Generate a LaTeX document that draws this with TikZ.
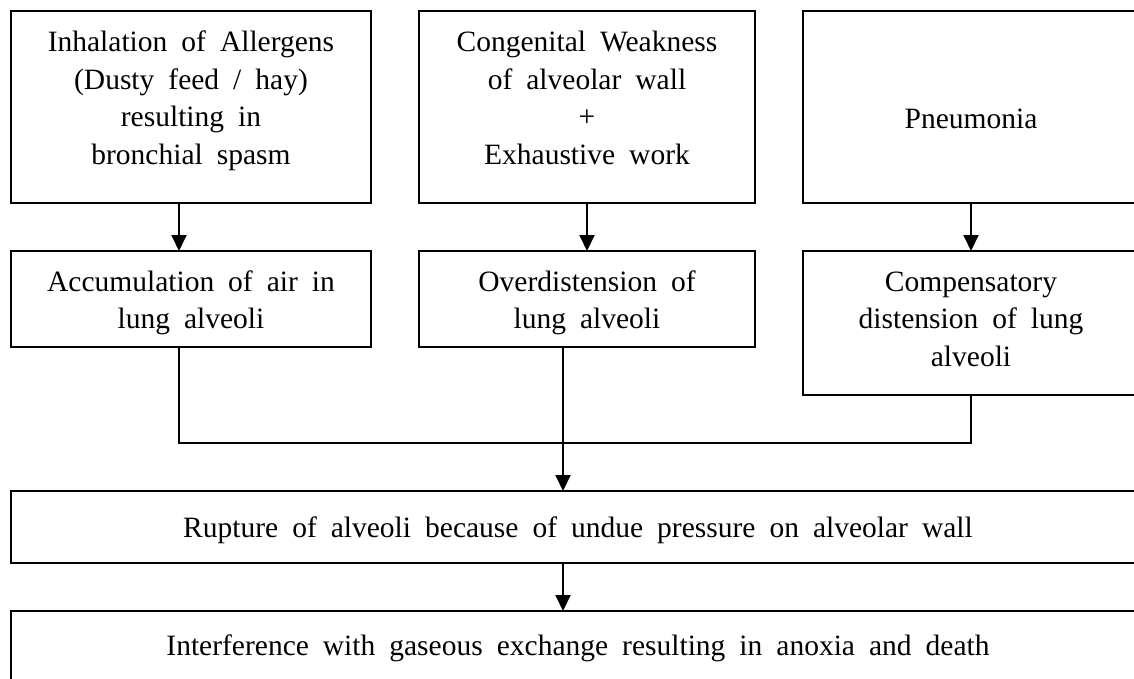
\documentclass[tikz,border=0pt]{standalone}
\usepackage{fontspec}
\setmainfont{Liberation Serif}[WordSpace=1.9]
\usetikzlibrary{arrows.meta}

% fixed-size box text: width, height, first-baseline drop, lines
\newcommand{\flowtext}[4]{\parbox[c][#2][t]{#1}{\centering\rule{0pt}{#3}#4}}

\tikzset{
  flowbox/.style={draw, line width=2pt, inner sep=0pt, outer sep=0pt,
    anchor=north west, font=\fontsize{29.5}{37.5}\selectfont},
  link/.style={line width=2pt},
  arrowlink/.style={line width=2pt, -{Triangle[length=16pt,width=15pt]}},
}

\begin{document}
\begin{tikzpicture}[x=1pt,y=-1pt]
\useasboundingbox[fill=white] (0,0) rectangle (1134,679);

% causes
\node[flowbox] (b1) at (11,11)
  {\flowtext{360pt}{192pt}{41pt}{Inhalation of Allergens\\(Dusty feed / hay)\\resulting in\\bronchial spasm}};
\node[flowbox] (b2) at (419,11)
  {\flowtext{336pt}{192pt}{41pt}{Congenital Weakness\\of alveolar wall\\+\\Exhaustive work}};
\node[flowbox] (b3) at (803,11)
  {\flowtext{336pt}{192pt}{118pt}{Pneumonia}};

% effects on the alveoli
\node[flowbox] (b4) at (11,251)
  {\flowtext{360pt}{96pt}{40pt}{Accumulation of air in\\lung alveoli}};
\node[flowbox] (b5) at (419,251)
  {\flowtext{336pt}{96pt}{40pt}{Overdistension of\\lung alveoli}};
\node[flowbox] (b6) at (803,251)
  {\flowtext{336pt}{144pt}{40pt}{Compensatory\\distension of lung\\alveoli}};

% outcome
\node[flowbox] (rup) at (11,491)
  {\flowtext{1134pt}{72pt}{46pt}{Rupture of alveoli because of undue pressure on alveolar wall}};
\node[flowbox] (intf) at (11,611)
  {\flowtext{1134pt}{72pt}{44pt}{Interference with gaseous exchange resulting in anoxia and death}};

% connector columns
\coordinate (lft) at ([xshift=-12pt]b1.south);
\coordinate (mid) at ([xshift=-24pt]b5.south);
\coordinate (join) at ([yshift=-48pt]b6.south);

\draw[arrowlink] (lft) -- (lft |- b4.north);
\draw[arrowlink] (b2.south) -- (b5.north);
\draw[arrowlink] (b3.south) -- (b6.north);

\draw[link] (lft |- b4.south) |- (join) -- (b6.south);
\draw[arrowlink] (mid) -- (mid |- rup.north);
\draw[arrowlink] (mid |- rup.south) -- (mid |- intf.north);
\end{tikzpicture}
\end{document}
